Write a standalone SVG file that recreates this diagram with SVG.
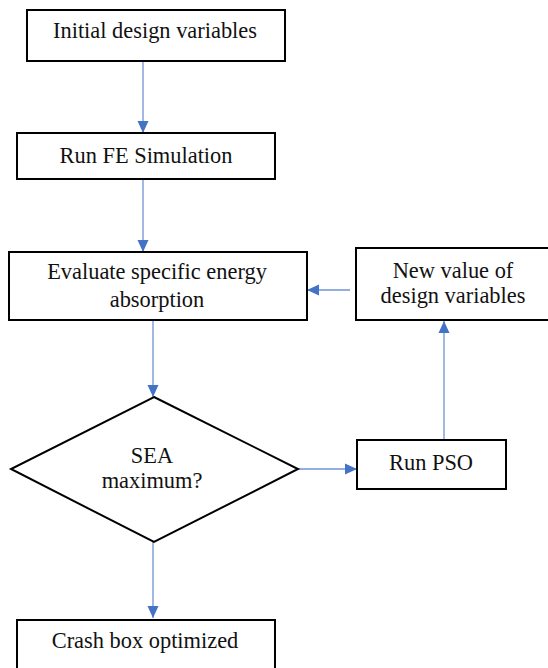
<svg xmlns="http://www.w3.org/2000/svg" width="548" height="668" viewBox="0 0 548 668">
<defs>
<style>
.box{fill:#ffffff;stroke:#000000;stroke-width:2}
text{font-family:'Liberation Serif','Times New Roman',serif;font-size:22.4px;fill:#111111;text-anchor:middle}
.c{stroke:#6f93d6;stroke-width:1.3;fill:none}
</style>
<marker id="ah" viewBox="0 0 12 12" refX="12" refY="6" markerWidth="12" markerHeight="12" markerUnits="userSpaceOnUse" orient="auto">
<path d="M0,0.5 L12,6 L0,11.5 Z" fill="#4472c4"/>
</marker>
</defs>
<rect width="548" height="668" fill="#ffffff"/>
<g id="connectors">
<line class="c" x1="143" y1="61" x2="143" y2="133" marker-end="url(#ah)"/>
<line class="c" x1="143" y1="179" x2="143" y2="252" marker-end="url(#ah)"/>
<line class="c" x1="153" y1="320" x2="153" y2="397" marker-end="url(#ah)"/>
<line class="c" x1="350" y1="290" x2="307" y2="290" marker-end="url(#ah)"/>
<line class="c" x1="444" y1="440" x2="444" y2="321" marker-end="url(#ah)"/>
<line class="c" x1="298" y1="469" x2="357" y2="469" marker-end="url(#ah)"/>
<line class="c" x1="153" y1="542" x2="153" y2="618" marker-end="url(#ah)"/>
</g>
<g id="initial">
<rect class="box" x="27" y="10" width="258" height="51"/>
<text x="155" y="38">Initial design variables</text>
</g>
<g id="runfe">
<rect class="box" x="17" y="133" width="258" height="46"/>
<text x="146" y="163">Run FE Simulation</text>
</g>
<g id="evaluate">
<rect class="box" x="9" y="252" width="298" height="68"/>
<text x="157" y="279">Evaluate specific energy</text>
<text x="157" y="307">absorption</text>
</g>
<g id="newvalue">
<rect class="box" x="356" y="248" width="200" height="72"/>
<text x="453" y="278">New value of</text>
<text x="453" y="303">design variables</text>
</g>
<g id="decision">
<polygon class="box" points="154,397 298,469 154,542 11,469"/>
<text x="152" y="463">SEA</text>
<text x="152" y="488">maximum?</text>
</g>
<g id="runpso">
<rect class="box" x="357" y="440" width="149" height="49"/>
<text x="431" y="470">Run PSO</text>
</g>
<g id="crash">
<rect class="box" x="17" y="620" width="258" height="60"/>
<text x="145" y="648">Crash box optimized</text>
</g>
</svg>
